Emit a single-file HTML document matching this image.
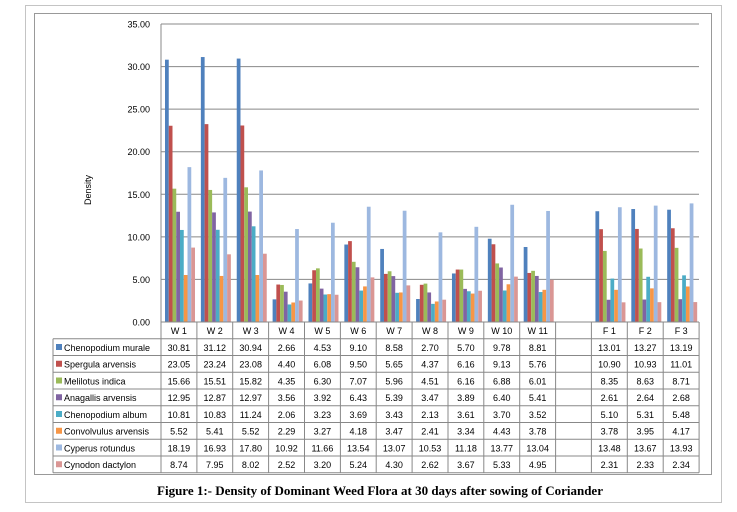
<!DOCTYPE html>
<html><head><meta charset="utf-8"><style>
html,body{margin:0;padding:0;background:#fff;}
svg{display:block;font-family:"Liberation Sans",sans-serif;font-size:9px;}
.a{fill:#4F81BD}.b{fill:#C0504D}.c{fill:#9BBB59}.d{fill:#8064A2}.e{fill:#4BACC6}.f{fill:#F79646}.g{fill:#9DB8E0}.h{fill:#DA9694}
.l{stroke:#888;stroke-width:1;fill:none}
.m{text-anchor:middle}
</style></head><body>
<svg width="737" height="512" viewBox="0 0 737 512" xmlns="http://www.w3.org/2000/svg">
<rect x="25.5" y="5.5" width="696" height="497" fill="none" stroke="#888" stroke-dasharray="1,1"/>
<rect x="34.5" y="13.5" width="677" height="461" fill="none" stroke="#999"/>
<text transform="translate(91,190) rotate(-90)" text-anchor="middle">Density</text>
<g class="l">
<line x1="161" x2="699" y1="322" y2="322"/><line x1="161" x2="699" y1="279.4" y2="279.4"/><line x1="161" x2="699" y1="236.9" y2="236.9"/><line x1="161" x2="699" y1="194.3" y2="194.3"/><line x1="161" x2="699" y1="151.7" y2="151.7"/><line x1="161" x2="699" y1="109.1" y2="109.1"/><line x1="161" x2="699" y1="66.6" y2="66.6"/><line x1="161" x2="699" y1="24" y2="24"/>
<line x1="161" x2="161" y1="24" y2="322"/>
</g>
<g text-anchor="end">
<text x="150" y="325.5">0.00</text><text x="150" y="282.9">5.00</text><text x="150" y="240.4">10.00</text><text x="150" y="197.8">15.00</text><text x="150" y="155.2">20.00</text><text x="150" y="112.6">25.00</text><text x="150" y="70.1">30.00</text><text x="150" y="27.5">35.00</text>
</g>
<defs></defs>
<g transform="translate(165,322) scale(1,-8.514)"><rect class="a" x="0" width="3.75" height="30.81"/><rect class="b" x="3.75" width="3.75" height="23.05"/><rect class="c" x="7.5" width="3.75" height="15.66"/><rect class="d" x="11.25" width="3.75" height="12.95"/><rect class="e" x="15" width="3.75" height="10.81"/><rect class="f" x="18.75" width="3.75" height="5.52"/><rect class="g" x="22.5" width="3.75" height="18.19"/><rect class="h" x="26.25" width="3.75" height="8.74"/></g>
<g transform="translate(200.87,322) scale(1,-8.514)"><rect class="a" x="0" width="3.75" height="31.12"/><rect class="b" x="3.75" width="3.75" height="23.24"/><rect class="c" x="7.5" width="3.75" height="15.51"/><rect class="d" x="11.25" width="3.75" height="12.87"/><rect class="e" x="15" width="3.75" height="10.83"/><rect class="f" x="18.75" width="3.75" height="5.41"/><rect class="g" x="22.5" width="3.75" height="16.93"/><rect class="h" x="26.25" width="3.75" height="7.95"/></g>
<g transform="translate(236.74,322) scale(1,-8.514)"><rect class="a" x="0" width="3.75" height="30.94"/><rect class="b" x="3.75" width="3.75" height="23.08"/><rect class="c" x="7.5" width="3.75" height="15.82"/><rect class="d" x="11.25" width="3.75" height="12.97"/><rect class="e" x="15" width="3.75" height="11.24"/><rect class="f" x="18.75" width="3.75" height="5.52"/><rect class="g" x="22.5" width="3.75" height="17.80"/><rect class="h" x="26.25" width="3.75" height="8.02"/></g>
<g transform="translate(272.61,322) scale(1,-8.514)"><rect class="a" x="0" width="3.75" height="2.66"/><rect class="b" x="3.75" width="3.75" height="4.40"/><rect class="c" x="7.5" width="3.75" height="4.35"/><rect class="d" x="11.25" width="3.75" height="3.56"/><rect class="e" x="15" width="3.75" height="2.06"/><rect class="f" x="18.75" width="3.75" height="2.29"/><rect class="g" x="22.5" width="3.75" height="10.92"/><rect class="h" x="26.25" width="3.75" height="2.52"/></g>
<g transform="translate(308.48,322) scale(1,-8.514)"><rect class="a" x="0" width="3.75" height="4.53"/><rect class="b" x="3.75" width="3.75" height="6.08"/><rect class="c" x="7.5" width="3.75" height="6.30"/><rect class="d" x="11.25" width="3.75" height="3.92"/><rect class="e" x="15" width="3.75" height="3.23"/><rect class="f" x="18.75" width="3.75" height="3.27"/><rect class="g" x="22.5" width="3.75" height="11.66"/><rect class="h" x="26.25" width="3.75" height="3.20"/></g>
<g transform="translate(344.35,322) scale(1,-8.514)"><rect class="a" x="0" width="3.75" height="9.10"/><rect class="b" x="3.75" width="3.75" height="9.50"/><rect class="c" x="7.5" width="3.75" height="7.07"/><rect class="d" x="11.25" width="3.75" height="6.43"/><rect class="e" x="15" width="3.75" height="3.69"/><rect class="f" x="18.75" width="3.75" height="4.18"/><rect class="g" x="22.5" width="3.75" height="13.54"/><rect class="h" x="26.25" width="3.75" height="5.24"/></g>
<g transform="translate(380.22,322) scale(1,-8.514)"><rect class="a" x="0" width="3.75" height="8.58"/><rect class="b" x="3.75" width="3.75" height="5.65"/><rect class="c" x="7.5" width="3.75" height="5.96"/><rect class="d" x="11.25" width="3.75" height="5.39"/><rect class="e" x="15" width="3.75" height="3.43"/><rect class="f" x="18.75" width="3.75" height="3.47"/><rect class="g" x="22.5" width="3.75" height="13.07"/><rect class="h" x="26.25" width="3.75" height="4.30"/></g>
<g transform="translate(416.09,322) scale(1,-8.514)"><rect class="a" x="0" width="3.75" height="2.70"/><rect class="b" x="3.75" width="3.75" height="4.37"/><rect class="c" x="7.5" width="3.75" height="4.51"/><rect class="d" x="11.25" width="3.75" height="3.47"/><rect class="e" x="15" width="3.75" height="2.13"/><rect class="f" x="18.75" width="3.75" height="2.41"/><rect class="g" x="22.5" width="3.75" height="10.53"/><rect class="h" x="26.25" width="3.75" height="2.62"/></g>
<g transform="translate(451.96,322) scale(1,-8.514)"><rect class="a" x="0" width="3.75" height="5.70"/><rect class="b" x="3.75" width="3.75" height="6.16"/><rect class="c" x="7.5" width="3.75" height="6.16"/><rect class="d" x="11.25" width="3.75" height="3.89"/><rect class="e" x="15" width="3.75" height="3.61"/><rect class="f" x="18.75" width="3.75" height="3.34"/><rect class="g" x="22.5" width="3.75" height="11.18"/><rect class="h" x="26.25" width="3.75" height="3.67"/></g>
<g transform="translate(487.83,322) scale(1,-8.514)"><rect class="a" x="0" width="3.75" height="9.78"/><rect class="b" x="3.75" width="3.75" height="9.13"/><rect class="c" x="7.5" width="3.75" height="6.88"/><rect class="d" x="11.25" width="3.75" height="6.40"/><rect class="e" x="15" width="3.75" height="3.70"/><rect class="f" x="18.75" width="3.75" height="4.43"/><rect class="g" x="22.5" width="3.75" height="13.77"/><rect class="h" x="26.25" width="3.75" height="5.33"/></g>
<g transform="translate(523.70,322) scale(1,-8.514)"><rect class="a" x="0" width="3.75" height="8.81"/><rect class="b" x="3.75" width="3.75" height="5.76"/><rect class="c" x="7.5" width="3.75" height="6.01"/><rect class="d" x="11.25" width="3.75" height="5.41"/><rect class="e" x="15" width="3.75" height="3.52"/><rect class="f" x="18.75" width="3.75" height="3.78"/><rect class="g" x="22.5" width="3.75" height="13.04"/><rect class="h" x="26.25" width="3.75" height="4.95"/></g>
<g transform="translate(595.44,322) scale(1,-8.514)"><rect class="a" x="0" width="3.75" height="13.01"/><rect class="b" x="3.75" width="3.75" height="10.90"/><rect class="c" x="7.5" width="3.75" height="8.35"/><rect class="d" x="11.25" width="3.75" height="2.61"/><rect class="e" x="15" width="3.75" height="5.10"/><rect class="f" x="18.75" width="3.75" height="3.78"/><rect class="g" x="22.5" width="3.75" height="13.48"/><rect class="h" x="26.25" width="3.75" height="2.31"/></g>
<g transform="translate(631.31,322) scale(1,-8.514)"><rect class="a" x="0" width="3.75" height="13.27"/><rect class="b" x="3.75" width="3.75" height="10.93"/><rect class="c" x="7.5" width="3.75" height="8.63"/><rect class="d" x="11.25" width="3.75" height="2.64"/><rect class="e" x="15" width="3.75" height="5.31"/><rect class="f" x="18.75" width="3.75" height="3.95"/><rect class="g" x="22.5" width="3.75" height="13.67"/><rect class="h" x="26.25" width="3.75" height="2.33"/></g>
<g transform="translate(667.18,322) scale(1,-8.514)"><rect class="a" x="0" width="3.75" height="13.19"/><rect class="b" x="3.75" width="3.75" height="11.01"/><rect class="c" x="7.5" width="3.75" height="8.71"/><rect class="d" x="11.25" width="3.75" height="2.68"/><rect class="e" x="15" width="3.75" height="5.48"/><rect class="f" x="18.75" width="3.75" height="4.17"/><rect class="g" x="22.5" width="3.75" height="13.93"/><rect class="h" x="26.25" width="3.75" height="2.34"/></g>
<g class="l">
<line x1="161" x2="699" y1="322" y2="322"/>
<line x1="53" x2="699" y1="338.75" y2="338.75"/><line x1="53" x2="699" y1="355.5" y2="355.5"/><line x1="53" x2="699" y1="372.25" y2="372.25"/><line x1="53" x2="699" y1="389" y2="389"/><line x1="53" x2="699" y1="405.75" y2="405.75"/><line x1="53" x2="699" y1="422.5" y2="422.5"/><line x1="53" x2="699" y1="439.25" y2="439.25"/><line x1="53" x2="699" y1="456" y2="456"/><line x1="53" x2="699" y1="472.75" y2="472.75"/>
<line x1="53" x2="53" y1="338.75" y2="472.75"/>
<line x1="161" x2="161" y1="322" y2="472.75"/><line x1="196.9" x2="196.9" y1="322" y2="472.75"/><line x1="232.7" x2="232.7" y1="322" y2="472.75"/><line x1="268.6" x2="268.6" y1="322" y2="472.75"/><line x1="304.5" x2="304.5" y1="322" y2="472.75"/><line x1="340.4" x2="340.4" y1="322" y2="472.75"/><line x1="376.2" x2="376.2" y1="322" y2="472.75"/><line x1="412.1" x2="412.1" y1="322" y2="472.75"/><line x1="448" x2="448" y1="322" y2="472.75"/><line x1="483.8" x2="483.8" y1="322" y2="472.75"/><line x1="519.7" x2="519.7" y1="322" y2="472.75"/><line x1="555.6" x2="555.6" y1="322" y2="472.75"/><line x1="591.4" x2="591.4" y1="322" y2="472.75"/><line x1="627.3" x2="627.3" y1="322" y2="472.75"/><line x1="663.2" x2="663.2" y1="322" y2="472.75"/><line x1="699.1" x2="699.1" y1="322" y2="472.75"/>
</g>
<text class="m" y="334"><tspan x="178.9">W 1</tspan><tspan x="214.8">W 2</tspan><tspan x="250.7">W 3</tspan><tspan x="286.5">W 4</tspan><tspan x="322.4">W 5</tspan><tspan x="358.3">W 6</tspan><tspan x="394.2">W 7</tspan><tspan x="430">W 8</tspan><tspan x="465.9">W 9</tspan><tspan x="501.8">W 10</tspan><tspan x="537.7">W 11</tspan><tspan x="609.4">F 1</tspan><tspan x="645.3">F 2</tspan><tspan x="681.2">F 3</tspan></text>
<rect class="a" x="56" y="344" width="6" height="6"/><text x="64" y="350.75">Chenopodium murale</text>
<rect class="b" x="56" y="360.75" width="6" height="6"/><text x="64" y="367.5">Spergula arvensis</text>
<rect class="c" x="56" y="377.5" width="6" height="6"/><text x="64" y="384.25">Melilotus indica</text>
<rect class="d" x="56" y="394.25" width="6" height="6"/><text x="64" y="401">Anagallis arvensis</text>
<rect class="e" x="56" y="411" width="6" height="6"/><text x="64" y="417.75">Chenopodium album</text>
<rect class="f" x="56" y="427.75" width="6" height="6"/><text x="64" y="434.5">Convolvulus arvensis</text>
<rect class="g" x="56" y="444.5" width="6" height="6"/><text x="64" y="451.25">Cyperus rotundus</text>
<rect class="h" x="56" y="461.25" width="6" height="6"/><text x="64" y="468">Cynodon dactylon</text>
<text class="m" y="350.75"><tspan x="178.9">30.81</tspan><tspan x="214.8">31.12</tspan><tspan x="250.7">30.94</tspan><tspan x="286.5">2.66</tspan><tspan x="322.4">4.53</tspan><tspan x="358.3">9.10</tspan><tspan x="394.2">8.58</tspan><tspan x="430">2.70</tspan><tspan x="465.9">5.70</tspan><tspan x="501.8">9.78</tspan><tspan x="537.7">8.81</tspan><tspan x="609.4">13.01</tspan><tspan x="645.3">13.27</tspan><tspan x="681.2">13.19</tspan></text>
<text class="m" y="367.5"><tspan x="178.9">23.05</tspan><tspan x="214.8">23.24</tspan><tspan x="250.7">23.08</tspan><tspan x="286.5">4.40</tspan><tspan x="322.4">6.08</tspan><tspan x="358.3">9.50</tspan><tspan x="394.2">5.65</tspan><tspan x="430">4.37</tspan><tspan x="465.9">6.16</tspan><tspan x="501.8">9.13</tspan><tspan x="537.7">5.76</tspan><tspan x="609.4">10.90</tspan><tspan x="645.3">10.93</tspan><tspan x="681.2">11.01</tspan></text>
<text class="m" y="384.25"><tspan x="178.9">15.66</tspan><tspan x="214.8">15.51</tspan><tspan x="250.7">15.82</tspan><tspan x="286.5">4.35</tspan><tspan x="322.4">6.30</tspan><tspan x="358.3">7.07</tspan><tspan x="394.2">5.96</tspan><tspan x="430">4.51</tspan><tspan x="465.9">6.16</tspan><tspan x="501.8">6.88</tspan><tspan x="537.7">6.01</tspan><tspan x="609.4">8.35</tspan><tspan x="645.3">8.63</tspan><tspan x="681.2">8.71</tspan></text>
<text class="m" y="401"><tspan x="178.9">12.95</tspan><tspan x="214.8">12.87</tspan><tspan x="250.7">12.97</tspan><tspan x="286.5">3.56</tspan><tspan x="322.4">3.92</tspan><tspan x="358.3">6.43</tspan><tspan x="394.2">5.39</tspan><tspan x="430">3.47</tspan><tspan x="465.9">3.89</tspan><tspan x="501.8">6.40</tspan><tspan x="537.7">5.41</tspan><tspan x="609.4">2.61</tspan><tspan x="645.3">2.64</tspan><tspan x="681.2">2.68</tspan></text>
<text class="m" y="417.75"><tspan x="178.9">10.81</tspan><tspan x="214.8">10.83</tspan><tspan x="250.7">11.24</tspan><tspan x="286.5">2.06</tspan><tspan x="322.4">3.23</tspan><tspan x="358.3">3.69</tspan><tspan x="394.2">3.43</tspan><tspan x="430">2.13</tspan><tspan x="465.9">3.61</tspan><tspan x="501.8">3.70</tspan><tspan x="537.7">3.52</tspan><tspan x="609.4">5.10</tspan><tspan x="645.3">5.31</tspan><tspan x="681.2">5.48</tspan></text>
<text class="m" y="434.5"><tspan x="178.9">5.52</tspan><tspan x="214.8">5.41</tspan><tspan x="250.7">5.52</tspan><tspan x="286.5">2.29</tspan><tspan x="322.4">3.27</tspan><tspan x="358.3">4.18</tspan><tspan x="394.2">3.47</tspan><tspan x="430">2.41</tspan><tspan x="465.9">3.34</tspan><tspan x="501.8">4.43</tspan><tspan x="537.7">3.78</tspan><tspan x="609.4">3.78</tspan><tspan x="645.3">3.95</tspan><tspan x="681.2">4.17</tspan></text>
<text class="m" y="451.25"><tspan x="178.9">18.19</tspan><tspan x="214.8">16.93</tspan><tspan x="250.7">17.80</tspan><tspan x="286.5">10.92</tspan><tspan x="322.4">11.66</tspan><tspan x="358.3">13.54</tspan><tspan x="394.2">13.07</tspan><tspan x="430">10.53</tspan><tspan x="465.9">11.18</tspan><tspan x="501.8">13.77</tspan><tspan x="537.7">13.04</tspan><tspan x="609.4">13.48</tspan><tspan x="645.3">13.67</tspan><tspan x="681.2">13.93</tspan></text>
<text class="m" y="468"><tspan x="178.9">8.74</tspan><tspan x="214.8">7.95</tspan><tspan x="250.7">8.02</tspan><tspan x="286.5">2.52</tspan><tspan x="322.4">3.20</tspan><tspan x="358.3">5.24</tspan><tspan x="394.2">4.30</tspan><tspan x="430">2.62</tspan><tspan x="465.9">3.67</tspan><tspan x="501.8">5.33</tspan><tspan x="537.7">4.95</tspan><tspan x="609.4">2.31</tspan><tspan x="645.3">2.33</tspan><tspan x="681.2">2.34</tspan></text>
<text x="380" y="495" text-anchor="middle" font-family="Liberation Serif, serif" font-weight="bold" font-size="13">Figure 1:- Density of Dominant Weed Flora at 30 days after sowing of Coriander</text>
</svg>
</body></html>
